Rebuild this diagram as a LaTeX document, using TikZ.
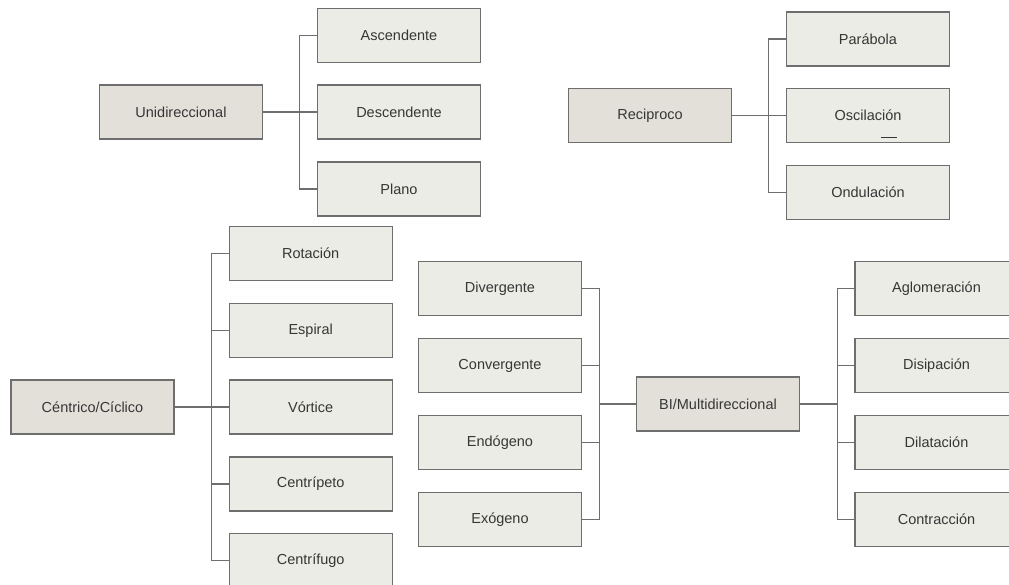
\documentclass[tikz,border=0pt]{standalone}
\usepackage{fontspec}
\setmainfont{Liberation Sans}
\begin{document}
\definecolor{leaffill}{HTML}{ECECE6}
\definecolor{rootfill}{HTML}{E3E0DA}
\definecolor{edgegray}{HTML}{6E6E6E}
\definecolor{inkgray}{HTML}{363636}
\begin{tikzpicture}[x=1pt,y=-1pt,
  box/.style={draw=edgegray,line width=1.3pt,minimum width=163pt,minimum height=54pt,
    inner sep=0pt,text=inkgray,font=\fontsize{14.5}{17}\selectfont,anchor=center},
  leaf/.style={box,fill=leaffill},
  root/.style={box,fill=rootfill},
  link/.style={draw=edgegray,line width=1.2pt}]
\clip (0,0) rectangle (1009,584);
\fill[white] (0,0) rectangle (1009,584);

% Unidireccional group
\node[root] (uni) at (181,112) {Unidireccional};
\node[leaf] (asc) at (399,35.3) {Ascendente};
\node[leaf] (des) at (399,112) {Descendente};
\node[leaf] (pla) at (399,189) {Plano};
\foreach \c in {asc,des,pla} \draw[link] (\c.west) -- ++(-17,0) |- (uni.east);

% Reciproco group
\node[root] (rec) at (650,115.5) {Reciproco};
\node[leaf] (par) at (868,39) {Parábola};
\node[leaf] (osc) at (868,115.7) {Oscilación};
\node[leaf] (ond) at (868,192.5) {Ondulación};
\foreach \c in {par,osc,ond} \draw[link] (\c.west) -- ++(-17,0) |- (rec.east);
\draw[inkgray,line width=1.1pt] (880.7,137.3) -- (896.7,137.3);

% Centrico/Ciclico group
\node[root] (cen) at (92.5,407) {Céntrico/Cíclico};
\node[leaf] (rot) at (310.7,253.7) {Rotación};
\node[leaf] (esp) at (310.7,330.3) {Espiral};
\node[leaf] (vor) at (310.7,407) {Vórtice};
\node[leaf] (cpt) at (310.7,484) {Centrípeto};
\node[leaf] (cfg) at (310.7,560.7) {Centrífugo};
\foreach \c in {rot,esp,vor,cpt,cfg} \draw[link] (\c.west) -- ++(-17,0) |- (cen.east);

% BI/Multidireccional group
\node[root] (bim) at (718,404) {BI/Multidireccional};
\node[leaf] (div) at (500,288.5) {Divergente};
\node[leaf] (con) at (500,365.5) {Convergente};
\node[leaf] (end) at (500,442.5) {Endógeno};
\node[leaf] (exo) at (500,519.2) {Exógeno};
\foreach \c in {div,con,end,exo} \draw[link] (\c.east) -- ++(17,0) |- (bim.west);
\node[leaf] (agl) at (936.5,288.5) {Aglomeración};
\node[leaf] (dis) at (936.5,365.5) {Disipación};
\node[leaf] (dil) at (936.5,442.5) {Dilatación};
\node[leaf] (ctr) at (936.5,519.2) {Contracción};
\foreach \c in {agl,dis,dil,ctr} \draw[link] (\c.west) -- ++(-17,0) |- (bim.east);
\end{tikzpicture}
\end{document}
